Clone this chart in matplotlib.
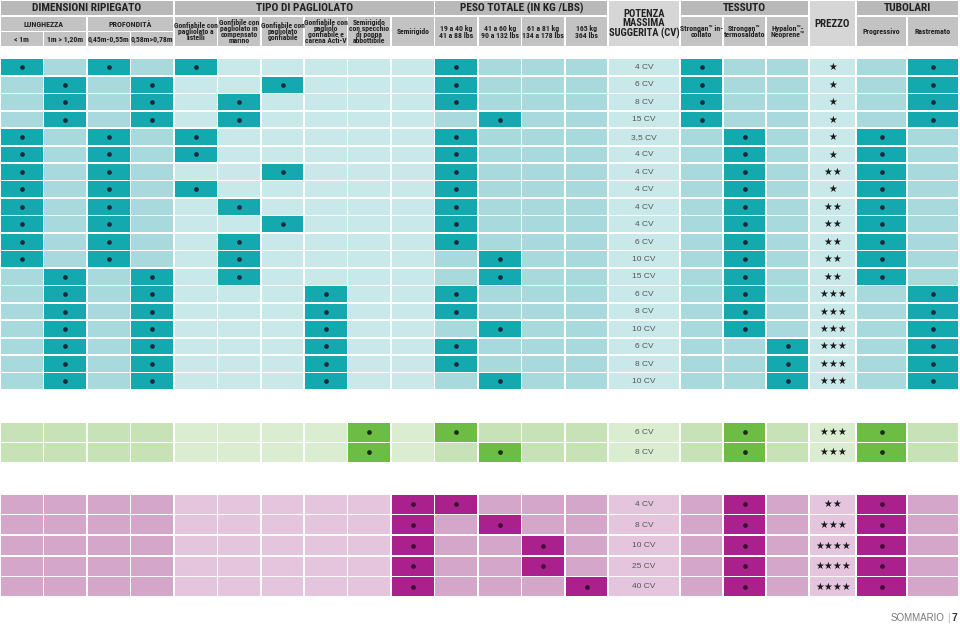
import matplotlib.pyplot as plt
from matplotlib.patches import Rectangle
from matplotlib import font_manager

# ---- dati ----
# colonne: 0-1 lunghezza, 2-3 profondità, 4-9 pagliolato, 10-13 peso,
# 14 potenza, 15-17 tessuto, 18 prezzo, 19-20 tubolari
teal_power = ['4 CV', '6 CV', '8 CV', '15 CV', '3,5 CV', '4 CV', '4 CV', '4 CV', '4 CV', '4 CV',
              '6 CV', '10 CV', '15 CV', '6 CV', '8 CV', '10 CV', '6 CV', '8 CV', '10 CV']
teal_stars = [1, 1, 1, 1, 1, 1, 2, 1, 2, 2, 2, 2, 2, 3, 3, 3, 3, 3, 3]
teal_length = [0, 1, 1, 1, 0, 0, 0, 0, 0, 0, 0, 0, 1, 1, 1, 1, 1, 1, 1]
teal_depth = [0, 1, 1, 1, 0, 0, 0, 0, 0, 0, 0, 0, 1, 1, 1, 1, 1, 1, 1]
teal_floor = [0, 2, 1, 1, 0, 0, 2, 0, 1, 2, 1, 1, 1, 3, 3, 3, 3, 3, 3]
teal_weight = [0, 0, 0, 1, 0, 0, 0, 0, 0, 0, 0, 1, 1, 0, 0, 1, 0, 0, 1]
teal_fabric = [0, 0, 0, 0, 1, 1, 1, 1, 1, 1, 1, 1, 1, 1, 1, 1, 2, 2, 2]
teal_tube = [1, 1, 1, 1, 0, 0, 0, 0, 0, 0, 0, 0, 0, 1, 1, 1, 1, 1, 1]

green_power = ['6 CV', '8 CV']
green_stars = [3, 3]
green_length = [None, None]
green_depth = [None, None]
green_floor = [4, 4]
green_weight = [0, 1]
green_fabric = [1, 1]
green_tube = [0, 0]

purple_power = ['4 CV', '8 CV', '10 CV', '25 CV', '40 CV']
purple_stars = [2, 3, 4, 4, 4]
purple_length = [None] * 5
purple_depth = [None] * 5
purple_floor = [5, 5, 5, 5, 5]
purple_weight = [0, 1, 2, 2, 3]
purple_fabric = [1, 1, 1, 1, 1]
purple_tube = [0, 0, 0, 0, 0]

# ---- layout ----
col_x = [0, 43.5, 87, 130.5, 174, 217.5, 261, 304, 347.5, 391, 434.5,
         478, 521.5, 565, 608, 680, 723, 766, 809, 856, 907, 959]
tone = ['m'] * 4 + ['l'] * 6 + ['m'] * 4 + ['l'] + ['m'] * 3 + ['l'] + ['m'] * 2
gap = 1.6

# font stretto se disponibile
names = {f.name for f in font_manager.fontManager.ttflist}
narrow = [n for n in ['Roboto Condensed', 'Liberation Sans Narrow', 'DejaVu Sans Condensed'] if n in names]
if narrow:
    hfont = [narrow[0], 'DejaVu Sans']
    k = 1.0
else:
    hfont = ['Roboto', 'DejaVu Sans']
    k = 0.78

fig = plt.figure(figsize=(9.6, 6.24), dpi=100)
ax = fig.add_axes([0, 0, 1, 1])
ax.set_xlim(0, 960)
ax.set_ylim(624, 0)
ax.axis('off')

dark = '#222222'


def box(x0, x1, y0, y1, color):
    ax.add_patch(Rectangle((x0 + gap / 2, y0 + gap / 2), x1 - x0 - gap, y1 - y0 - gap,
                           facecolor=color, edgecolor='none'))


def hcell(c0, c1, y0, y1, txt, color, size=5.6, bold=True, ls=0.85):
    box(col_x[c0], col_x[c1], y0, y1, color)
    ax.text((col_x[c0] + col_x[c1]) / 2, (y0 + y1) / 2 + 0.3, txt, ha='center', va='center',
            fontsize=size * k, fontweight='bold' if bold else 'normal', family=hfont,
            color=dark, linespacing=ls)


# ---- intestazione ----
g_top = '#b9b9b9'
g_sub = '#c3c3c3'
g_light = '#d6d6d6'
hcell(0, 4, 0, 16, 'DIMENSIONI RIPIEGATO', g_top, 8.2)
hcell(4, 10, 0, 16, 'TIPO DI PAGLIOLATO', g_top, 8.2)
hcell(10, 14, 0, 16, 'PESO TOTALE (IN KG /LBS)', g_top, 8.2)
hcell(14, 15, 0, 47, 'POTENZA\nMASSIMA\nSUGGERITA (CV)', g_light, 7.6, ls=0.95)
hcell(15, 18, 0, 16, 'TESSUTO', g_top, 8.2)
hcell(18, 19, 0, 47, 'PREZZO', g_light, 7.8)
hcell(19, 21, 0, 16, 'TUBOLARI', g_top, 8.2)
hcell(0, 2, 16, 31.5, 'LUNGHEZZA', g_sub, 5.8)
hcell(2, 4, 16, 31.5, 'PROFONDITÀ', g_sub, 5.8)
sub3 = ['< 1m', '1m > 1,20m', '0,45m-0,55m', '0,58m>0,78m']
for i, t in enumerate(sub3):
    hcell(i, i + 1, 31.5, 47, t, g_sub, 5.6)
floor_lbl = ['Gonfiabile con\npagliolato a\nlistelli', 'Gonfibile con\npagliolato in\ncompensato\nmarino',
             'Gonfiabile con\npagliolato\ngonfiabile', 'Gonfiabile con\npagliolo\ngonfiabile e\ncarena Acti-V',
             'Semirigido\ncon specchio\ndi poppa\nabbottibile', 'Semirigido']
for i, t in enumerate(floor_lbl):
    hcell(4 + i, 5 + i, 16, 47, t, g_sub, 5.5)
weight_lbl = ['19 a 40 kg\n41 a 88 lbs', '41 a 60 kg\n90 a 132 lbs', '61 a 81 kg\n134 a 178 lbs', '165 kg\n364 lbs']
for i, t in enumerate(weight_lbl):
    hcell(10 + i, 11 + i, 16, 47, t, g_sub, 5.6, ls=1.0)
fabric_lbl = ['Strongan™ in-\ncollato', 'Strongan™\ntermosaldato', 'Hypalon™-\nNeoprene™']
for i, t in enumerate(fabric_lbl):
    hcell(15 + i, 16 + i, 16, 47, t, g_sub, 5.6)
tube_lbl = ['Progressivo', 'Rastremato']
for i, t in enumerate(tube_lbl):
    hcell(19 + i, 20 + i, 16, 47, t, g_sub, 5.6)


# ---- sezioni ----
def section(top, row_h, pal, power, stars, length, depth, floor, weight, fabric, tube):
    med, light, mark, dot = pal
    for r in range(len(power)):
        y0 = top + r * row_h
        yc = y0 + row_h / 2
        marked = {4 + floor[r], 10 + weight[r], 15 + fabric[r], 19 + tube[r]}
        if length[r] is not None:
            marked.add(length[r])
            marked.add(2 + depth[r])
        for c in range(21):
            col = mark if c in marked else (med if tone[c] == 'm' else light)
            box(col_x[c], col_x[c + 1], y0, y0 + row_h, col)
        xs = [(col_x[c] + col_x[c + 1]) / 2 for c in sorted(marked)]
        ax.plot(xs, [yc] * len(xs), 'o', ms=3.4, color=dot, mec='none')
        ax.text((col_x[14] + col_x[15]) / 2, yc + 0.3, power[r], ha='center', va='center',
                fontsize=6, color='#555555', family='Liberation Sans')
        sx = (col_x[18] + col_x[19]) / 2
        n = stars[r]
        for j in range(n):
            ax.text(sx + (j - (n - 1) / 2) * 8.8, yc, '★', ha='center', va='center',
                    fontsize=7, color='#1a1a1a', family='DejaVu Sans')


section(58.5, 17.45, ('#a8dadd', '#c9e8ea', '#14a9ae', '#1b2a3a'),
        teal_power, teal_stars, teal_length, teal_depth, teal_floor, teal_weight, teal_fabric, teal_tube)
section(422, 20.3, ('#c6e2b6', '#dbedd1', '#6dbd45', '#1b2a1a'),
        green_power, green_stars, green_length, green_depth, green_floor, green_weight, green_fabric, green_tube)
section(494, 20.6, ('#d4a6c9', '#e4c5dd', '#aa208d', '#3a0f33'),
        purple_power, purple_stars, purple_length, purple_depth, purple_floor, purple_weight, purple_fabric, purple_tube)

# ---- piè di pagina ----
ax.text(944, 618, 'SOMMARIO', ha='right', va='center', fontsize=7, color='#777777', family='Liberation Sans')
ax.text(948.5, 618, '|', ha='center', va='center', fontsize=7, color='#aaaaaa', family='Liberation Sans')
ax.text(954.5, 618, '7', ha='center', va='center', fontsize=7.5, fontweight='bold', color='#333333',
        family='Liberation Sans')

fig.savefig('out.png', dpi=100)
